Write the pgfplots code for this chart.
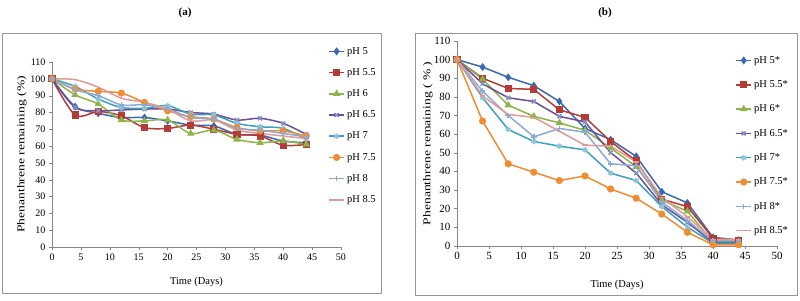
\documentclass[border=0pt]{standalone}
\usepackage{pgfplots}
\pgfplotsset{compat=1.18}
\usepackage{fontspec}
\setmainfont{Liberation Serif}
\definecolor{c1}{RGB}{60,105,175}
\definecolor{c2}{RGB}{180,60,55}
\definecolor{c3}{RGB}{140,180,70}
\definecolor{c4}{RGB}{110,78,155}
\definecolor{c5}{RGB}{60,160,190}
\definecolor{c6}{RGB}{240,140,50}
\definecolor{c7}{RGB}{140,170,215}
\definecolor{c8}{RGB}{225,155,150}
\definecolor{fr}{RGB}{150,150,150}
\definecolor{ax}{RGB}{134,134,134}
\pgfplotsset{
  common/.style={
    scale only axis,
    anchor=south west,
    axis lines=left,
    axis line style={draw=ax,-},
    xmin=0,xmax=50,ymin=0,ymax=110,
    xtick={0,5,...,50},
    ytick={0,10,...,110},
    tick align=outside,
    major tick length=3pt,
    tick style={ax},
    /pgf/number format/assume math mode=true,
    tick label style={font=\fontsize{10}{11}\selectfont},
    label style={font=\fontsize{10.5}{12}\selectfont},
    xlabel style={at={(axis description cs:0.5,-0.19)},anchor=center},
    legend style={draw=none,fill=none,font=\fontsize{10.5}{12}\selectfont,anchor=north west,inner sep=0pt},
    legend cell align=left,
    legend image code/.code={\draw[mark repeat=2,mark phase=2] plot coordinates {(0cm,0cm) (0.27cm,0cm) (0.54cm,0cm)};},
    every axis plot/.append style={line width=1.5pt,mark size=2.8pt,mark options={solid,line width=0.8pt}},
    clip=false,
  },
  s1/.style={c1,mark=diamond*,mark options={fill=c1,draw=c1}},
  s2/.style={c2,mark=square*,mark options={fill=c2,draw=c2}},
  s3/.style={c3,mark=triangle*,mark options={fill=c3,draw=c3}},
  s4/.style={c4,mark=x,mark options={draw=c7!70!c4}},
  s5/.style={c5,mark=asterisk,mark options={draw=c5!60!white}},
  s6/.style={c6,mark=*,mark options={fill=c6,draw=c6}},
  s7/.style={c7,mark=+,mark options={draw=c7}},
  s8/.style={c8,mark=-,mark options={draw=c8}},
}
\begin{document}
\begin{tikzpicture}
\useasboundingbox (0pt,0pt) rectangle (800pt,300pt);
\fill[white] (0pt,0pt) rectangle (800pt,300pt);
\draw[fr,line width=0.8pt] (2pt,7pt) rectangle (381pt,267pt);
\draw[fr,line width=0.8pt] (415pt,5pt) rectangle (797pt,267pt);
\node[font=\bfseries\fontsize{11}{13}\selectfont] at (185pt,287pt) {(a)};
\node[font=\bfseries\fontsize{11}{13}\selectfont] at (605pt,287pt) {(b)};

\begin{axis}[common, at={(52pt,53pt)}, width=289pt, height=185pt,
  xlabel={Time (Days)}, ylabel={\scalebox{1.3}[1]{Phenanthrene remaining (\%)}},
  ylabel style={at={(axis description cs:-0.104,0.5)},anchor=center,rotate=0},
  legend style={at={(0.955,1.092)},row sep=8.8pt},
  every axis plot/.append style={smooth,tension=0.5}]
\addplot[s1] coordinates {(0,100)(4,83.5)(8,79.5)(12,77)(16,77)(20,75)(24,72.5)(28,72)(32,67)(36,66.5)(40,63)(44,62)};
\addplot[s2] coordinates {(0,100)(4,78.5)(8,80.5)(12,78)(16,71)(20,70.5)(24,72.5)(28,70)(32,67)(36,66)(40,60.5)(44,61)};
\addplot[s3] coordinates {(0,100)(4,90.5)(8,85)(12,75.5)(16,75)(20,75.5)(24,67.5)(28,69.5)(32,64)(36,62)(40,63)(44,61)};
\addplot[s4] coordinates {(0,100)(4,83)(8,81)(12,81.5)(16,82)(20,82)(24,80)(28,79)(32,75.5)(36,76.5)(40,73.5)(44,67)};
\addplot[s5] coordinates {(0,100)(4,95.5)(8,88)(12,83)(16,82.5)(20,84)(24,79)(28,78.5)(32,73.5)(36,71.5)(40,70.5)(44,64)};
\addplot[s6] coordinates {(0,100)(4,94)(8,92.5)(12,91.5)(16,86)(20,81)(24,77.5)(28,76)(32,71)(36,69)(40,69)(44,66)};
\addplot[s7] coordinates {(0,100)(4,93.5)(8,90)(12,84.5)(16,84.5)(20,82)(24,77)(28,76)(32,70.5)(36,69.5)(40,67.5)(44,65.5)};
\addplot[s8,mark=none] coordinates {(0,100)(4,99.5)(8,95)(12,88.5)(16,86)(20,82)(24,75)(28,75.5)(32,69.5)(36,67.5)(40,66)(44,64.5)};
\legend{pH 5,pH 5.5,pH 6,pH 6.5,pH 7,pH 7.5,pH 8,pH 8.5}
\end{axis}

\begin{axis}[common, at={(457pt,54.3pt)}, width=320pt, height=204.7pt,
  tick label style={font=\fontsize{11}{12}\selectfont},
  xlabel={Time (Days)}, ylabel={\scalebox{1.3}[1]{Phenanthrene remaining ( \% )}},
  ylabel style={at={(axis description cs:-0.091,0.5)},anchor=center,rotate=0},
  xlabel style={at={(axis description cs:0.5,-0.192)}},
  legend style={at={(0.869,0.936)},row sep=11.9pt}]
\addplot[s1] coordinates {(0,100)(4,96)(8,90.5)(12,86)(16,77.5)(20,63)(24,57)(28,48)(32,29)(36,23)(40,4.5)(44,3)};
\addplot[s2] coordinates {(0,100)(4,90)(8,84.5)(12,84)(16,73)(20,69)(24,56)(28,45.5)(32,25)(36,21)(40,4)(44,3)};
\addplot[s3] coordinates {(0,100)(4,89.5)(8,75.5)(12,69.5)(16,66)(20,62)(24,52.5)(28,42.5)(32,24.5)(36,18.5)(40,2)(44,2)};
\addplot[s4] coordinates {(0,100)(4,87)(8,79.5)(12,77.5)(16,69.5)(20,66.5)(24,50)(28,39)(32,22)(36,12.5)(40,1.8)(44,1.8)};
\addplot[s5] coordinates {(0,100)(4,79.5)(8,62.5)(12,56)(16,53.5)(20,51.5)(24,39)(28,35)(32,21)(36,10)(40,1.3)(44,1.3)};
\addplot[s6] coordinates {(0,100)(4,67)(8,44)(12,39.5)(16,35)(20,37.5)(24,30.5)(28,25.5)(32,17)(36,7.2)(40,0.5)(44,0.5)};
\addplot[s7] coordinates {(0,100)(4,83)(8,70)(12,58.5)(16,63)(20,61)(24,44)(28,43)(32,23.5)(36,13.5)(40,2.7)(44,2.7)};
\addplot[s8] coordinates {(0,100)(4,80.5)(8,70.5)(12,69)(16,61.5)(20,54)(24,53.5)(28,45)(32,26)(36,15.5)(40,3.4)(44,3.4)};
\legend{pH 5*,pH 5.5*,pH 6*,pH 6.5*,pH 7*,pH 7.5*,pH 8*,pH 8.5*}
\end{axis}
\end{tikzpicture}
\end{document}
